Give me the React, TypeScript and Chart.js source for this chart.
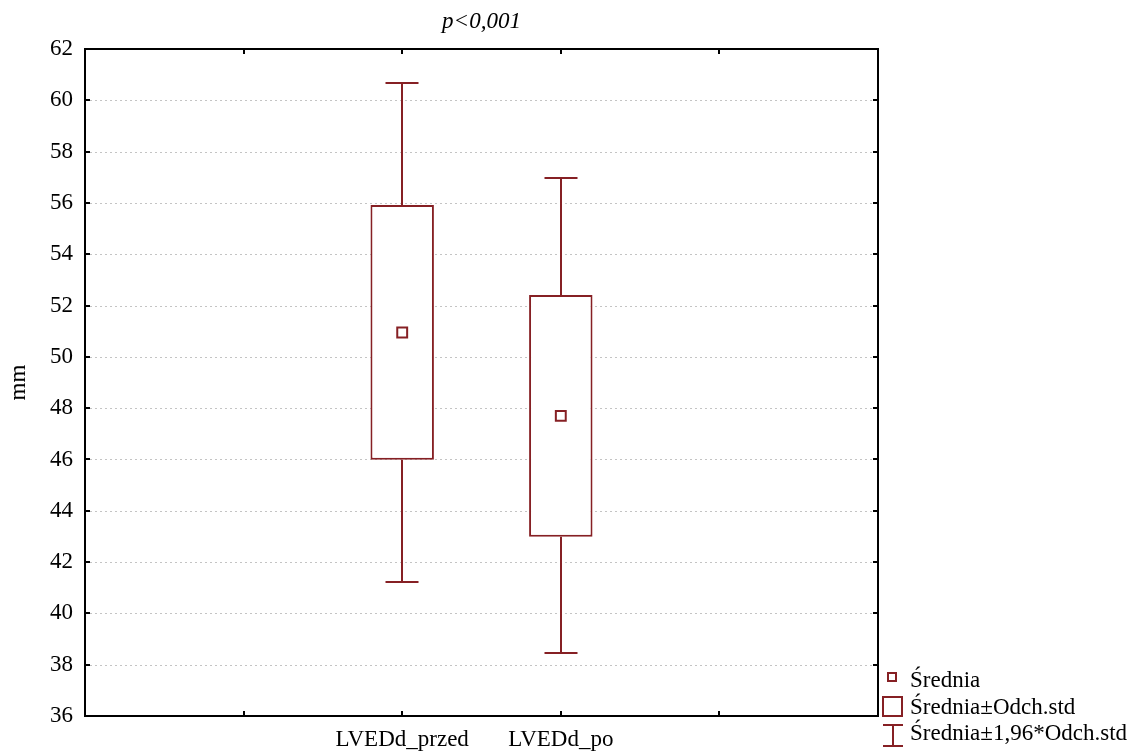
import React, { useEffect, useRef } from 'react';
import { Chart, registerables } from 'chart.js';

Chart.register(...registerables);

// ---- data ----
const categories = ['LVEDd_przed', 'LVEDd_po'];
const means = [50.95, 47.7];
const sdLow = [45.99, 42.99];
const sdHigh = [55.92, 52.41];
const ciLow = [41.22, 38.45];
const ciHigh = [60.69, 56.96];
const yMin = 36;
const yMax = 62;
const yStep = 2;
const titleText = 'p<0,001';
const yAxisLabel = 'mm';
const legendLabels = ['Średnia', 'Średnia±Odch.std', 'Średnia±1,96*Odch.std'];

// ---- styles ----
const RED = '#862024';
const FONT = "'Liberation Serif', 'Times New Roman', serif";
const FONT_SIZE = 23;

// x axis: two empty slots on each side of the categories
const axisLabels = ['', '', ...categories, '', ''];
const pad = <T,>(arr: T[]): (T | null)[] => [null, null, ...arr, null, null];

const statPlugin = {
  id: 'statPlugin',
  beforeDatasetsDraw(chart: any) {
    const { ctx, chartArea, scales } = chart;
    const y = scales.y;
    ctx.save();
    ctx.strokeStyle = '#c4c4c4';
    ctx.lineWidth = 1;
    ctx.setLineDash([2, 3]);
    y.ticks.forEach((t: any) => {
      if (t.value <= yMin || t.value >= yMax) return;
      const py = Math.round(y.getPixelForValue(t.value)) + 0.5;
      ctx.beginPath();
      ctx.moveTo(chartArea.left, py);
      ctx.lineTo(chartArea.right, py);
      ctx.stroke();
    });
    ctx.restore();
  },
  afterDatasetsDraw(chart: any) {
    const { ctx, scales } = chart;
    const x = scales.x;
    const y = scales.y;
    const capHalf = 16.5;
    ctx.save();
    ctx.strokeStyle = RED;
    ctx.lineWidth = 2;
    categories.forEach((cat, i) => {
      const px = Math.round(x.getPixelForValue(axisLabels.indexOf(cat)));
      const segs: [number, number][] = [
        [sdHigh[i], ciHigh[i]],
        [sdLow[i], ciLow[i]],
      ];
      segs.forEach(([from, to]) => {
        const p0 = y.getPixelForValue(from);
        const p1 = Math.round(y.getPixelForValue(to));
        ctx.beginPath();
        ctx.moveTo(px, p0);
        ctx.lineTo(px, p1);
        ctx.moveTo(px - capHalf, p1);
        ctx.lineTo(px + capHalf, p1);
        ctx.stroke();
      });
    });
    ctx.restore();
  },
  afterDraw(chart: any) {
    const { ctx, chartArea, scales } = chart;
    const { left, right, top, bottom } = chartArea;
    const x = scales.x;
    const y = scales.y;
    ctx.save();
    // frame
    ctx.strokeStyle = '#000';
    ctx.lineWidth = 2;
    ctx.strokeRect(left, top, right - left, bottom - top);
    // inward tick marks
    const tl = 5;
    ctx.beginPath();
    y.ticks.forEach((t: any) => {
      if (t.value <= yMin || t.value >= yMax) return;
      const py = Math.round(y.getPixelForValue(t.value));
      ctx.moveTo(left, py);
      ctx.lineTo(left + tl, py);
      ctx.moveTo(right, py);
      ctx.lineTo(right - tl, py);
    });
    for (let k = 1; k < axisLabels.length - 1; k++) {
      const px = Math.round(x.getPixelForValue(k));
      ctx.moveTo(px, bottom);
      ctx.lineTo(px, bottom - tl);
      ctx.moveTo(px, top);
      ctx.lineTo(px, top + tl);
    }
    ctx.stroke();

    // title
    ctx.fillStyle = '#000';
    ctx.font = `italic ${FONT_SIZE}px ${FONT}`;
    ctx.textAlign = 'center';
    ctx.textBaseline = 'alphabetic';
    ctx.fillText(titleText, (left + right) / 2, top - 21);

    // legend
    ctx.font = `${FONT_SIZE}px ${FONT}`;
    ctx.textAlign = 'left';
    const lx = right + 5;
    const tx = right + 32;
    ctx.strokeStyle = RED;
    ctx.lineWidth = 2;
    ctx.fillStyle = '#fff';
    // mean marker
    ctx.fillRect(lx + 5, bottom - 43, 8, 8);
    ctx.strokeRect(lx + 5, bottom - 43, 8, 8);
    // box
    ctx.strokeRect(lx, bottom - 19, 19, 19);
    // whisker
    ctx.beginPath();
    ctx.moveTo(lx, bottom + 9);
    ctx.lineTo(lx + 20, bottom + 9);
    ctx.moveTo(lx + 10, bottom + 9);
    ctx.lineTo(lx + 10, bottom + 30);
    ctx.moveTo(lx, bottom + 30);
    ctx.lineTo(lx + 20, bottom + 30);
    ctx.stroke();
    ctx.fillStyle = '#000';
    ctx.fillText(legendLabels[0], tx, bottom - 29);
    ctx.fillText(legendLabels[1], tx, bottom - 2);
    ctx.fillText(legendLabels[2], tx, bottom + 24);
    ctx.restore();
  },
};

export default function App() {
  const canvasRef = useRef<HTMLCanvasElement | null>(null);

  useEffect(() => {
    document.body.style.margin = '0';
    const canvas = canvasRef.current;
    if (!canvas) return;
    const chart = new Chart(canvas, {
      type: 'bar',
      data: {
        labels: axisLabels,
        datasets: [
          {
            type: 'line',
            label: legendLabels[0],
            data: pad(means),
            showLine: false,
            pointStyle: 'rect',
            pointRadius: 7,
            pointHoverRadius: 7,
            pointBorderWidth: 2,
            borderColor: RED,
            backgroundColor: '#fff',
            pointBackgroundColor: '#fff',
            pointBorderColor: RED,
            order: 0,
          } as any,
          {
            type: 'bar',
            label: legendLabels[1],
            data: pad(sdLow.map((l, i) => [l, sdHigh[i]])) as any,
            backgroundColor: '#fff',
            borderColor: RED,
            borderWidth: 2,
            borderSkipped: false,
            barPercentage: 0.4,
            categoryPercentage: 1,
            order: 1,
          } as any,
        ],
      },
      options: {
        animation: false,
        responsive: false,
        events: [],
        layout: { padding: { left: 0, right: 256, top: 49, bottom: 0 } },
        plugins: {
          legend: { display: false },
          title: { display: false },
          tooltip: { enabled: false },
        },
        scales: {
          x: {
            type: 'category',
            offset: false,
            grid: { display: false, drawTicks: false, offset: false },
            border: { display: false },
            ticks: {
              color: '#000',
              font: { family: FONT, size: FONT_SIZE },
              padding: 10,
              autoSkip: false,
              maxRotation: 0,
            },
            afterFit: (s: any) => {
              s.height = 40;
            },
          },
          y: {
            type: 'linear',
            min: yMin,
            max: yMax,
            grid: { display: false, drawTicks: false },
            border: { display: false },
            ticks: {
              stepSize: yStep,
              color: '#000',
              font: { family: FONT, size: FONT_SIZE },
              padding: 12,
            },
            title: {
              display: true,
              text: yAxisLabel,
              color: '#000',
              font: { family: FONT, size: FONT_SIZE },
              padding: { top: 5, bottom: 0 },
            },
            afterFit: (s: any) => {
              s.width = 85;
            },
          },
        },
      } as any,
      plugins: [statPlugin],
    });
    return () => chart.destroy();
  }, []);

  return (
    <div style={{ width: 1134, height: 756 }}>
      <canvas ref={canvasRef} width={1134} height={756} style={{ display: 'block' }} />
    </div>
  );
}
